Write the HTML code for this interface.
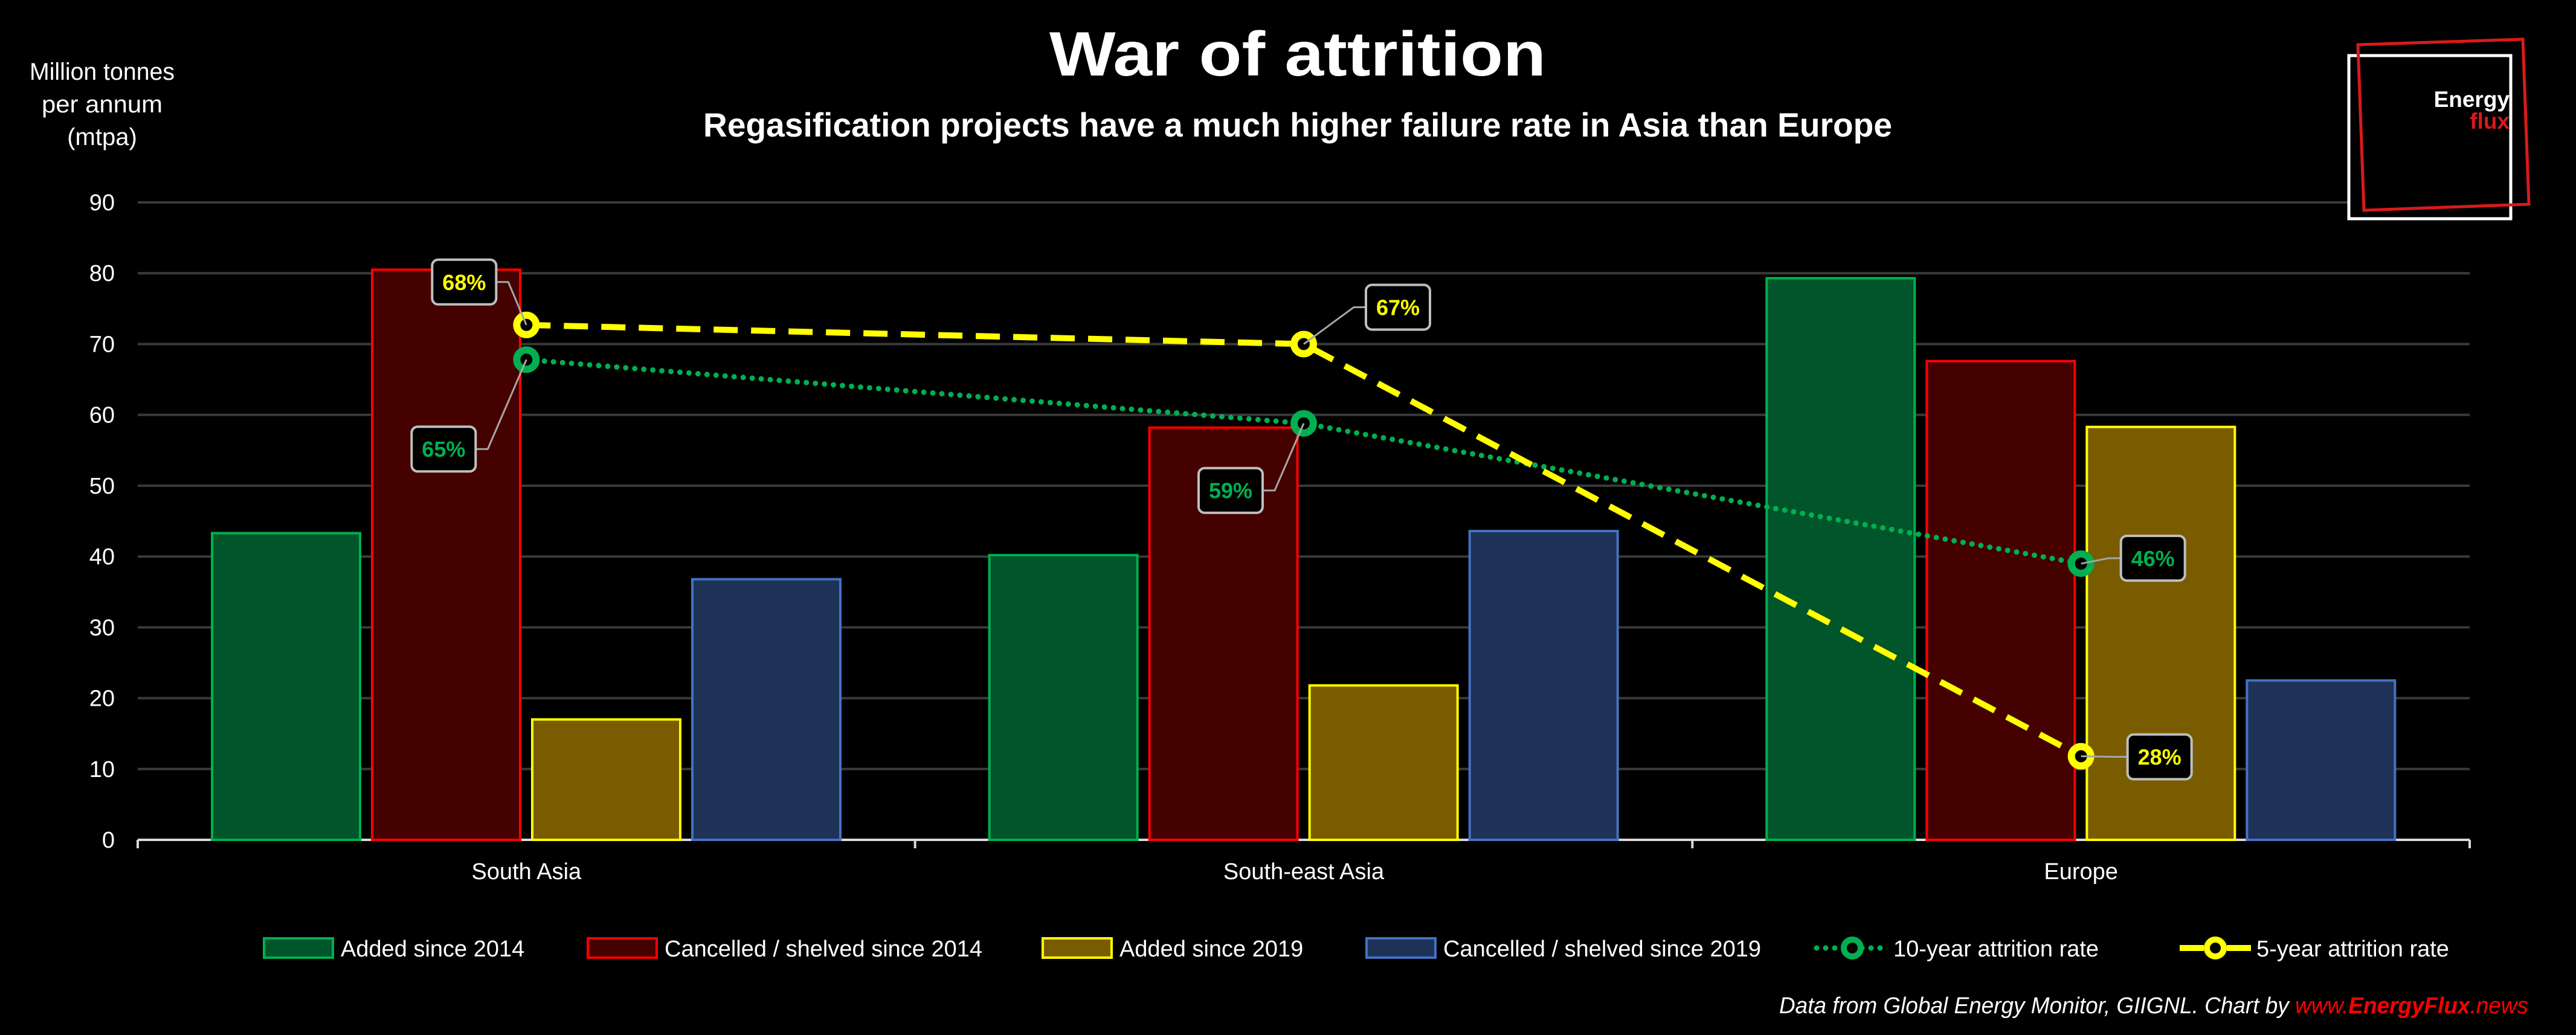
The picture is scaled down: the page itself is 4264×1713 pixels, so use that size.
<!DOCTYPE html>
<html><head><meta charset="utf-8"><style>
html,body{margin:0;padding:0;background:#000;}
svg{display:block;font-family:"Liberation Sans",sans-serif;}
</style></head><body>
<svg id="chart" width="4264" height="1713" viewBox="0 0 4264 1713">
<rect x="0" y="0" width="4264" height="1713" fill="#000"/>
<text x="2148" y="125" fill="#fff" font-size="104" font-weight="bold" text-anchor="middle" textLength="822" lengthAdjust="spacingAndGlyphs">War of attrition</text>
<text x="2148" y="226" fill="#fff" font-size="56" font-weight="bold" text-anchor="middle" textLength="1968" lengthAdjust="spacingAndGlyphs">Regasification projects have a much higher failure rate in Asia than Europe</text>
<g fill="#fff" font-size="40" text-anchor="middle">
<text x="169" y="132" textLength="240" lengthAdjust="spacingAndGlyphs">Million tonnes</text>
<text x="169" y="186" textLength="200" lengthAdjust="spacingAndGlyphs">per annum</text>
<text x="169" y="240">(mtpa)</text>
</g>
<g id="grid"></g><g id="bars"></g><g id="lines"></g><g id="labels"></g><g id="legend"></g>
<g>
<rect x="3888" y="92" width="268" height="270" fill="#000" stroke="#fff" stroke-width="5"/>
<polygon points="3903,74 4176,65 4186,338 3913,348" fill="none" stroke="#d81a1a" stroke-width="5"/>
<text x="4154" y="177" fill="#fff" font-size="37" font-weight="bold" text-anchor="end">Energy</text>
<text x="4154" y="213" fill="#d81a1a" font-size="37" font-weight="bold" text-anchor="end">flux</text>
</g>
<text x="4185" y="1677" fill="#fff" font-size="38" font-style="italic" text-anchor="end" textLength="1240" lengthAdjust="spacingAndGlyphs">Data from Global Energy Monitor, GIIGNL. Chart by <tspan fill="#ff0000">www.<tspan font-weight="bold">EnergyFlux</tspan>.news</tspan></text>
</svg>
<script>
const categories = ["South Asia", "South-east Asia", "Europe"];
const added2014 = [43.3, 40.2, 79.3];
const cancelled2014 = [80.5, 58.2, 67.6];
const added2019 = [17.0, 21.8, 58.3];
const cancelled2019 = [36.8, 43.6, 22.5];
const rate10 = [67.8, 58.8, 39.0];
const rate10Labels = ["65%", "59%", "46%"];
const rate5 = [72.7, 70.0, 11.8];
const rate5Labels = ["68%", "67%", "28%"];
const yTicks = [0, 10, 20, 30, 40, 50, 60, 70, 80, 90];

const NS = "http://www.w3.org/2000/svg";
const X0 = 228, X1 = 4088, Y0 = 1390, YMAX_PX = 335, YMAX = 90;
const catW = (X1 - X0) / categories.length;
function yS(v){ return Y0 - (Y0 - YMAX_PX) * v / YMAX; }
function catC(i){ return X0 + catW * (i + 0.5); }
function mk(tag, attrs, parent){ const e = document.createElementNS(NS, tag); for (const k in attrs) e.setAttribute(k, attrs[k]); parent.appendChild(e); return e; }

const grid = document.getElementById('grid');
yTicks.forEach(t => {
  if (t > 0) {
    const gl = mk('line', {x1:X0, x2:X1, y1:yS(t), y2:yS(t), stroke:'#3a3a3a', 'stroke-width':4}, grid);
    
    
  }
  const tl = mk('text', {x:190, y:yS(t)+13, fill:'#fff', 'font-size':38, 'text-anchor':'end'}, grid);
  tl.textContent = t;
  
  
});
const ax = mk('line', {x1:X0, x2:X1, y1:Y0, y2:Y0, stroke:'#d9d9d9', 'stroke-width':4}, grid);


for (let i = 0; i <= categories.length; i++) {
  const tk = mk('line', {x1:X0+catW*i, x2:X0+catW*i, y1:Y0, y2:Y0+14, stroke:'#d9d9d9', 'stroke-width':4}, grid);
  
  
}
categories.forEach((c, i) => {
  const t = mk('text', {x:catC(i), y:1455, fill:'#fff', 'font-size':38, 'text-anchor':'middle'}, grid);
  t.textContent = c;
  
  
});

const series = [
  {vals:added2014, fill:'#00552a', stroke:'#00b050', name:'Added since 2014'},
  {vals:cancelled2014, fill:'#450000', stroke:'#ff0000', name:'Cancelled / shelved since 2014'},
  {vals:added2019, fill:'#7a5c00', stroke:'#ffff00', name:'Added since 2019'},
  {vals:cancelled2019, fill:'#1f3358', stroke:'#4472c4', name:'Cancelled / shelved since 2019'}
];
const bars = document.getElementById('bars');
const barW = 245, step = 265, off = 123;
series.forEach((s, si) => {
  s.vals.forEach((v, i) => {
    const x = X0 + catW*i + off + step*si;
    const r = mk('rect', {x:x, y:yS(v), width:barW, height:Y0 - yS(v), fill:s.fill, stroke:s.stroke, 'stroke-width':4}, bars);
    
    
  });
});

const lines = document.getElementById('lines');
function drawLine(vals, color, dash, name){
  const pts = vals.map((v,i) => catC(i) + ',' + yS(v)).join(' ');
  const attrs = {points:pts, fill:'none', stroke:color, 'stroke-width':dash==='dot'?9:10};
  if (dash === 'dot') { attrs['stroke-dasharray'] = '0 15'; attrs['stroke-linecap'] = 'round'; }
  else { attrs['stroke-dasharray'] = '40 22'; }
  const pl = mk('polyline', attrs, lines);
  
  
  vals.forEach((v,i) => {
    const c = mk('circle', {cx:catC(i), cy:yS(v), r:16, fill:'#000', stroke:color, 'stroke-width':12}, lines);
    
    
  });
}
drawLine(rate10, '#00b050', 'dot', 'ten-year-rate');
drawLine(rate5, '#ffff00', 'dash', 'five-year-rate');

const labels = document.getElementById('labels');
function drawLabel(px, py, bx, by, txt, color, side){
  const w = 106, h = 74;
  const g = mk('g', {}, labels);
  
  
  const ly = by + h/2;
  const ex = side === 'right' ? bx + w : bx;
  const kx = side === 'right' ? ex + 20 : ex - 20;
  mk('polyline', {points: ex+','+ly+' '+kx+','+ly+' '+px+','+py, fill:'none', stroke:'#a6a6a6', 'stroke-width':3}, g);
  mk('rect', {x:bx, y:by, width:w, height:h, rx:10, fill:'#000', stroke:'#bfbfbf', 'stroke-width':4}, g);
  const t = mk('text', {x:bx+w/2, y:by+h/2+13, fill:color, 'font-size':36, 'font-weight':'bold', 'text-anchor':'middle'}, g);
  t.textContent = txt;
}
const l5 = [[-156,-108,'right'],[103,-98,'left'],[77,-36,'left']];
const l10 = [[-190,111,'right'],[-174,74,'right'],[66,-46,'left']];
rate5.forEach((v,i) => { const px=catC(i), py=yS(v); drawLabel(px, py, px+l5[i][0], py+l5[i][1], rate5Labels[i], '#ffff00', l5[i][2]); });
rate10.forEach((v,i) => { const px=catC(i), py=yS(v); drawLabel(px, py, px+l10[i][0], py+l10[i][1], rate10Labels[i], '#00b050', l10[i][2]); });

const legend = document.getElementById('legend');
const LY = 1569;
const legItems = [
  {x:437, type:'box', s:series[0]}, {x:973, type:'box', s:series[1]},
  {x:1726, type:'box', s:series[2]}, {x:2262, type:'box', s:series[3]},
  {x:3007, type:'dot', color:'#00b050', name:'10-year attrition rate'},
  {x:3608, type:'dash', color:'#ffff00', name:'5-year attrition rate'}
];
legItems.forEach(it => {
  const g = mk('g', {}, legend);
  
  
  let label;
  if (it.type === 'box') {
    mk('rect', {x:it.x, y:LY-16, width:114, height:32, fill:it.s.fill, stroke:it.s.stroke, 'stroke-width':4}, g);
    label = it.s.name;
  } else {
    const a = {x1:it.x, x2:it.x+118, y1:LY, y2:LY, stroke:it.color, 'stroke-width':10};
    if (it.type === 'dot') { a['stroke-dasharray'] = '0 15'; a['stroke-linecap'] = 'round'; a['stroke-width'] = 9; }
    else { a['stroke-dasharray'] = '40 38'; }
    mk('line', a, g);
    mk('circle', {cx:it.x+59, cy:LY, r:14, fill:'#000', stroke:it.color, 'stroke-width':10}, g);
    label = it.name;
  }
  const t = mk('text', {x:it.x+127, y:LY+14, fill:'#fff', 'font-size':38}, g);
  t.textContent = label;
});
</script>
</body></html>
